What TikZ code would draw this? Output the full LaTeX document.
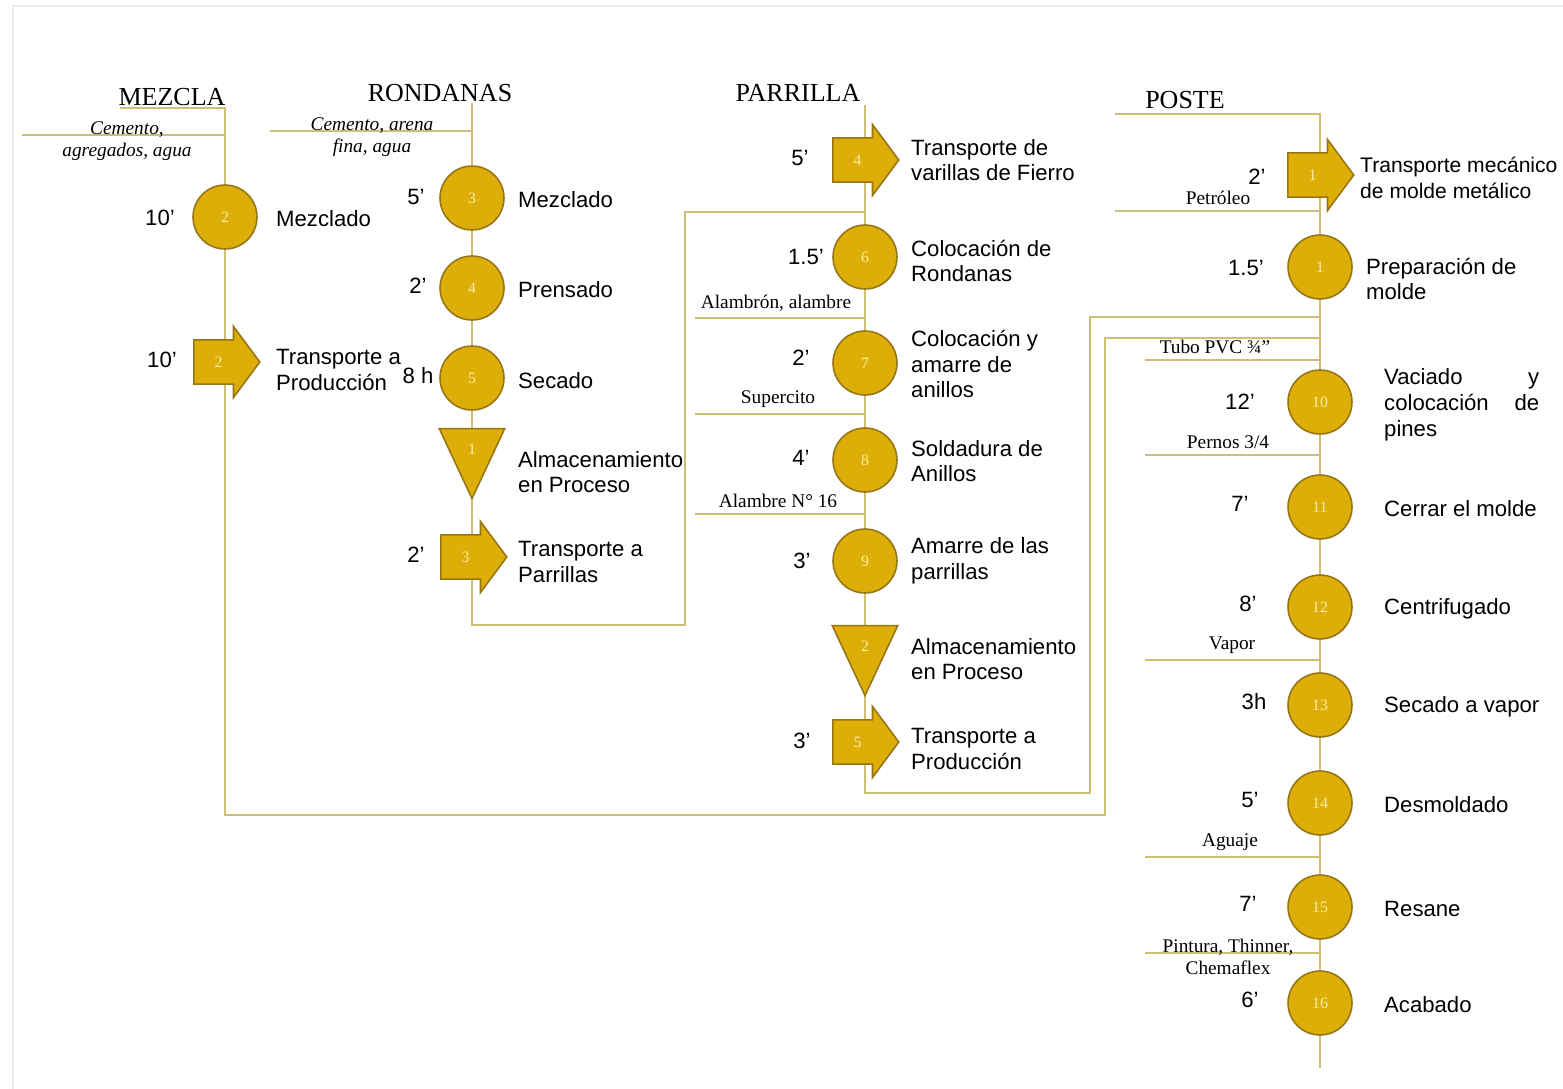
\documentclass[tikz,border=0pt]{standalone}
\usepackage{fontspec}
\setmainfont{Liberation Serif}
\setsansfont{Liberation Sans}
\usetikzlibrary{shapes.geometric, shapes.arrows, positioning, backgrounds}

\definecolor{opfill}{RGB}{222,174,8}
\definecolor{opedge}{RGB}{150,118,20}
\definecolor{flowline}{RGB}{205,192,118}
\definecolor{numtext}{RGB}{250,236,165}

\tikzset{
  op/.style={circle, draw=opedge, fill=opfill, line width=0.9pt, minimum size=1.28cm,
    inner sep=0pt, font=\fontsize{9}{9}\selectfont, text=numtext},
  transp/.style={single arrow, anchor=tail, draw=opedge, fill=opfill, line width=0.9pt,
    minimum width=1.4cm, minimum height=1.32cm, single arrow head extend=0.27cm,
    single arrow tip angle=107, inner xsep=0pt, inner ysep=0.32cm, text height=6pt, text depth=0pt,
    font=\fontsize{9}{9}\selectfont, text=numtext},
  store/.style={isosceles triangle, shape border rotate=270, isosceles triangle stretches,
    minimum width=1.31cm, minimum height=1.4cm, draw=opedge, fill=opfill, line width=0.9pt,
    inner sep=0pt, font=\fontsize{9}{9}\selectfont, text=numtext},
  flow/.style={draw=flowline, line width=0.8pt},
  title/.style={font=\fontsize{14.8}{16}\selectfont},
  desc/.style={anchor=west, align=left, font=\sffamily\fontsize{12.6}{14.7}\selectfont},
  tlab/.style={font=\sffamily\fontsize{12.6}{14.7}\selectfont},
  inlab/.style={font=\fontsize{11}{12.5}\selectfont, align=center},
}

\begin{document}
\begin{tikzpicture}[x=0.02cm, y=-0.02cm]
  \useasboundingbox (0,0) rectangle (1563,1089);
  \draw[gray!15, line width=1pt] (13,1089) -- (13,6) -- (1563,6);

  % Titles
  \node[title] (tmz) at (172,97) {MEZCLA};
  \node[title] (trd) at (440,93) {RONDANAS};
  \node[title] (tpa) at (798,93) {PARRILLA};
  \node[title] (tps) at (1185,100) {POSTE};

  % MEZCLA
  \node[op] (c2) at (225,217) {2};
  \node[transp] (t2) at (193,362) {2};
  \node[tlab] (m1) at (160,218) {10'};
  \node[tlab] (m2) at (162,360) {10'};
  \node[desc] (d2) at (270,219) {Mezclado};
  \node[desc] (dt2) at (270,370) {Transporte a\\Producción};

  % RONDANAS
  \node[op] (r3) at (472,198) {3};
  \node[op] (r4) at (472,288) {4};
  \node[op] (r5) at (472,378) {5};
  \node[store] (s1) at (472,449) {1};
  \node[transp] (t3) at (440,557) {3};
  \node[tlab] (mr3) at (416,197) {5'};
  \node[tlab] (mr4) at (418,286) {2'};
  \node[tlab] (mr5) at (418,376) {8 h};
  \node[tlab] (mt3) at (416,555) {2'};
  \node[desc] (dr3) at (512,200) {Mezclado};
  \node[desc] (dr4) at (512,290) {Prensado};
  \node[desc] (dr5) at (512,381) {Secado};
  \node[desc] (ds1) at (512,472) {Almacenamiento\\en Proceso};
  \node[desc] (dt3) at (512,562) {Transporte a\\Parrillas};

  % PARRILLA
  \node[transp] (t4) at (832,160) {4};
  \node[op] (c6) at (865,257) {6};
  \node[op] (c7) at (865,363) {7};
  \node[op] (c8) at (865,460) {8};
  \node[op] (c9) at (865,561) {9};
  \node[store] (s2) at (865,646) {2};
  \node[transp] (t5) at (832,742) {5};
  \node[tlab] (mt4) at (800,158) {5'};
  \node[tlab] (m6) at (806,257) {1.5'};
  \node[tlab] (m7) at (801,358) {2'};
  \node[tlab] (m8) at (801,458) {4'};
  \node[tlab] (m9) at (802,561) {3'};
  \node[tlab] (mt5) at (802,741) {3'};
  \node[desc] (dt4) at (905,160) {Transporte de\\varillas de Fierro};
  \node[desc] (d6) at (905,261) {Colocación de\\Rondanas};
  \node[desc] (d7) at (905,364) {Colocación y\\amarre de\\anillos};
  \node[desc] (d8) at (905,461) {Soldadura de\\Anillos};
  \node[desc] (d9) at (905,561) {Amarre de las\\parrillas};
  \node[desc] (ds2) at (905,659) {Almacenamiento\\en Proceso};
  \node[desc] (dt5) at (905,749) {Transporte a\\Producción};

  % POSTE
  \node[transp] (t1) at (1287,175) {1};
  \node[op] (c1) at (1320,267) {1};
  \node[op] (c10) at (1320,402) {10};
  \node[tlab] (mt1) at (1257,177) {2'};
  \node[tlab] (m1p) at (1246,268) {1.5'};
  \node[tlab] (m10) at (1240,402) {12'};
  \node[desc, font=\sffamily\fontsize{12}{14.7}\selectfont] (dt1) at (1354,178) {Transporte mecánico\\de molde metálico};
  \node[desc] (d1) at (1360,279) {Preparación de\\molde};
  \node[desc, text width=3.1cm] (d10) at (1378,405) {Vaciado\hfill y\\colocación\hfill de\\pines};
  \foreach \n/\y/\tx/\t/\d in {11/507/1240/7'/Cerrar el molde, 12/607/1248/8'/Centrifugado,
      13/705/1254/3h/Secado a vapor, 14/803/1250/5'/Desmoldado,
      15/907/1248/7'/Resane, 16/1003/1250/6'/Acabado} {
    \node[op] (c\n) at (1320,\y) {\n};
    \node[tlab] (m\n) at (\tx,\y-3) {\t};
    \node[desc] (d\n) at (1378,\y+2) {\d};
  }

  % Inputs
  \node[inlab, font=\itshape\fontsize{11}{12.5}\selectfont] (in1) at (127,141) {Cemento,\\agregados, agua};
  \node[inlab, font=\itshape\fontsize{11}{12.5}\selectfont] (in2) at (372,137) {Cemento, arena\\fina, agua};
  \node[inlab, above] (in3) at (776,318) {Alambrón, alambre};
  \node[inlab, above] (in4) at (778,414) {Supercito};
  \node[inlab, above] (in5) at (778,514) {Alambre N° 16};
  \node[inlab, above] (in6) at (1218,211) {Petróleo};
  \node[inlab, above] (in7) at (1215,360) {Tubo PVC ¾"};
  \node[inlab, above] (in8) at (1228,455) {Pernos 3/4};
  \node[inlab, above] (in9) at (1232,660) {Vapor};
  \node[inlab, above] (in10) at (1230,857) {Aguaje};
  \node[inlab] (in11) at (1228,957) {Pintura, Thinner,\\Chemaflex};

  % Flow lines
  \begin{scope}[on background layer]
    \draw[flow] (120,108) -- (225,108) -- (c2.center) -- (c2 |- t2.tail) -- (225,815) -- (1105,815) -- (1105,338) -- (1320,338);
    \draw[flow] (22,135) -- (225,135);
    \draw[flow] (472,103) -- (r3.center) -- (r4.center) -- (r5.center) -- (s1.center) -- (r5 |- t3.tail)
      -- (472,625) -- (685,625) -- (685,212) -- (865,212);
    \draw[flow] (270,131) -- (472,131);
    \draw[flow] (865,105) -- (c6 |- t4.tail) -- (c6.center) -- (c7.center) -- (c8.center) -- (c9.center)
      -- (s2.center) -- (c9 |- t5.tail) -- (865,793) -- (1090,793) -- (1090,317) -- (1320,317);
    \draw[flow] (695,318) -- (865,318);
    \draw[flow] (695,414) -- (865,414);
    \draw[flow] (695,514) -- (865,514);
    \draw[flow] (1115,114) -- (1320,114) -- (c1 |- t1.tail) -- (c1.center) -- (c10.center) -- (c11.center)
      -- (c12.center) -- (c13.center) -- (c14.center) -- (c15.center) -- (c16.center) -- (1320,1068);
    \foreach \y/\x in {211/1115, 360/1145, 455/1145, 660/1145, 857/1145, 953/1145}
      \draw[flow] (\x,\y) -- (1320,\y);
  \end{scope}
\end{tikzpicture}
\end{document}
